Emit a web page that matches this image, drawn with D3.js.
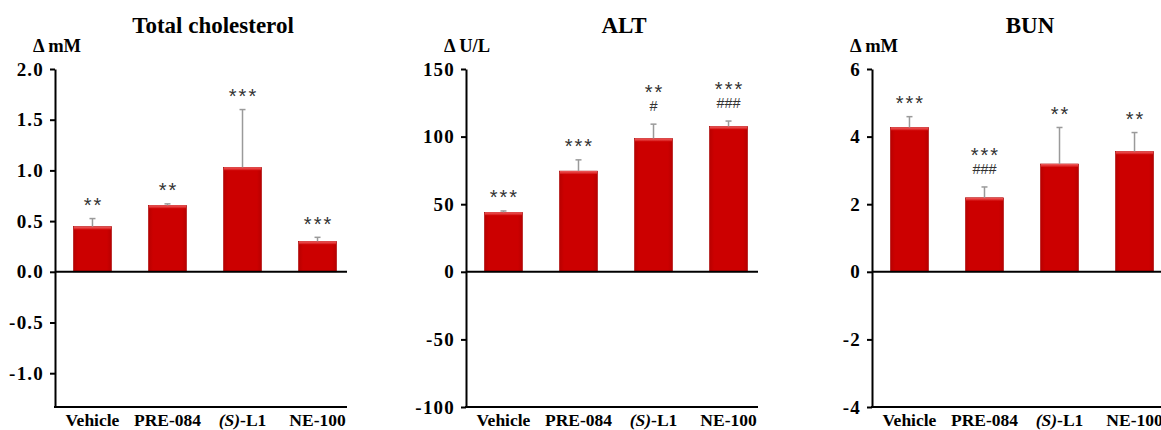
<!DOCTYPE html>
<html>
<head>
<meta charset="utf-8">
<script src="https://cdn.jsdelivr.net/npm/d3@7/dist/d3.min.js"></script>
<style>
  html, body { margin: 0; padding: 0; background: #fff; }
  svg { display: block; }
</style>
</head>
<body>
<svg id="chart" width="1161" height="430"></svg>
<script>
// Treatment groups shared by all three panels
const categories = ["Vehicle", "PRE-084", "(S)-L1", "NE-100"];

// Total cholesterol (Δ mM)
const cholMean = [0.445, 0.655, 1.03, 0.30];
const cholErr = [0.08, 0.015, 0.57, 0.04];
const cholStars = ["**", "**", "***", "***"];
const cholHash = ["", "", "", ""];
const cholTicks = [-1.0, -0.5, 0.0, 0.5, 1.0, 1.5, 2.0];
const cholDomain = [-4 / 3, 2];

// ALT (Δ U/L)
const altMean = [44, 74.5, 98.6, 107.5];
const altErr = [1, 8.3, 10.6, 4];
const altStars = ["***", "***", "**", "***"];
const altHash = ["", "", "#", "###"];
const altTicks = [-100, -50, 0, 50, 100, 150];
const altDomain = [-100, 150];

// BUN (Δ mM)
const bunMean = [4.27, 2.19, 3.19, 3.56];
const bunErr = [0.32, 0.32, 1.08, 0.56];
const bunStars = ["***", "***", "**", "**"];
const bunHash = ["", "###", "", ""];
const bunTicks = [-4, -2, 0, 2, 4, 6];
const bunDomain = [-4, 6];

// Plain hyphen for negative tick labels
const withHyphen = f => v => f(v).replace("\u2212", "-");

const panels = [
  { title: "Total cholesterol", unit: "\u0394 mM", mean: cholMean, err: cholErr, stars: cholStars, hash: cholHash,
    ticks: cholTicks, domain: cholDomain, fmt: withHyphen(d3.format(".1f")), x0: 55 },
  { title: "ALT", unit: "\u0394 U/L", mean: altMean, err: altErr, stars: altStars, hash: altHash,
    ticks: altTicks, domain: altDomain, fmt: withHyphen(d3.format("d")), x0: 466 },
  { title: "BUN", unit: "\u0394 mM", mean: bunMean, err: bunErr, stars: bunStars, hash: bunHash,
    ticks: bunTicks, domain: bunDomain, fmt: withHyphen(d3.format("d")), x0: 872 }
];

const svg = d3.select("#chart");
const serif = "'Liberation Serif', 'Times New Roman', serif";
const sans = "'Liberation Sans', Arial, sans-serif";
const yTop = 69, yBottom = 407, axisLen = 292;

// Bar shading: darker sides, brighter middle
const defs = svg.append("defs");
const grad = defs.append("linearGradient").attr("id", "barFill")
  .attr("x1", 0).attr("x2", 1).attr("y1", 0).attr("y2", 0);
grad.append("stop").attr("offset", "0%").attr("stop-color", "#b80000");
grad.append("stop").attr("offset", "12%").attr("stop-color", "#cc0000");
grad.append("stop").attr("offset", "88%").attr("stop-color", "#cc0000");
grad.append("stop").attr("offset", "100%").attr("stop-color", "#b80000");
const capGrad = defs.append("linearGradient").attr("id", "barCap")
  .attr("x1", 0).attr("x2", 0).attr("y1", 0).attr("y2", 1);
capGrad.append("stop").attr("offset", "0%").attr("stop-color", "#f06060");
capGrad.append("stop").attr("offset", "100%").attr("stop-color", "#d41010");

panels.forEach(p => {
  const g = svg.append("g");
  const x = d3.scaleBand().domain(categories)
    .range([p.x0, p.x0 + 300]).paddingInner(0.493).paddingOuter(0.246);
  const y = d3.scaleLinear().domain(p.domain).range([yBottom, yTop]);

  // Title and unit
  g.append("text").attr("x", p.x0 + 158).attr("y", 33)
    .attr("text-anchor", "middle").attr("font-family", serif)
    .attr("font-weight", "bold").attr("font-size", 23).text(p.title);
  g.append("text").attr("x", p.x0 - 22).attr("y", 52)
    .attr("font-family", serif).attr("font-weight", "bold")
    .attr("font-size", 18.5).text(p.unit);

  const rows = categories.map((c, i) => ({ c, m: p.mean[i], e: p.err[i], s: p.stars[i], h: p.hash[i] }));

  // Bars
  g.selectAll("rect.bar").data(rows).join("rect").attr("class", "bar")
    .attr("x", d => x(d.c)).attr("width", x.bandwidth())
    .attr("y", d => y(Math.max(0, d.m)))
    .attr("height", d => Math.abs(y(d.m) - y(0)))
    .attr("fill", "url(#barFill)")
    .attr("stroke", "#a80000").attr("stroke-width", 0.6);
  g.selectAll("rect.cap").data(rows).join("rect").attr("class", "cap")
    .attr("x", d => x(d.c) + 0.5).attr("width", x.bandwidth() - 1)
    .attr("y", d => y(d.m)).attr("height", 3)
    .attr("fill", "url(#barCap)");

  // Error bars (upper only)
  const cx = d => x(d.c) + x.bandwidth() / 2;
  g.selectAll("line.err").data(rows).join("line").attr("class", "err")
    .attr("x1", cx).attr("x2", cx)
    .attr("y1", d => y(d.m)).attr("y2", d => y(d.m + d.e))
    .attr("stroke", "#9a9a9a").attr("stroke-width", 1.5);
  g.selectAll("line.errcap").data(rows).join("line").attr("class", "errcap")
    .attr("x1", d => cx(d) - 3).attr("x2", d => cx(d) + 3)
    .attr("y1", d => y(d.m + d.e)).attr("y2", d => y(d.m + d.e))
    .attr("stroke", "#9a9a9a").attr("stroke-width", 1.5);

  // Significance marks
  g.selectAll("text.star").data(rows).join("text").attr("class", "star")
    .attr("x", d => cx(d) + 1)
    .attr("y", d => y(d.m + d.e) - (d.h ? 25 : 6.5))
    .attr("text-anchor", "middle").attr("font-family", sans)
    .attr("font-size", 20).attr("letter-spacing", 2)
    .attr("fill", "#333").text(d => d.s);
  g.selectAll("text.hash").data(rows.filter(d => d.h)).join("text").attr("class", "hash")
    .attr("x", d => cx(d))
    .attr("y", d => y(d.m + d.e) - 13)
    .attr("text-anchor", "middle").attr("font-family", sans)
    .attr("font-size", 14.5).attr("fill", "#333").text(d => d.h);

  // Y axis
  const yAxis = g.append("g").attr("transform", `translate(${p.x0},0)`)
    .call(d3.axisLeft(y).tickValues(p.ticks).tickFormat(p.fmt).tickSize(5).tickSizeOuter(0).tickPadding(6));
  yAxis.select(".domain").attr("stroke", "#000").attr("stroke-width", 2);
  yAxis.selectAll(".tick line").attr("stroke", "#000").attr("stroke-width", 2);
  yAxis.selectAll(".tick text").attr("font-family", serif).attr("font-weight", "bold")
    .attr("font-size", 19).attr("letter-spacing", 1.2).attr("fill", "#000");

  // Zero line and bottom axis line
  g.append("line").attr("x1", p.x0).attr("x2", p.x0 + axisLen)
    .attr("y1", y(0)).attr("y2", y(0)).attr("stroke", "#000").attr("stroke-width", 2);
  const xAxis = g.append("g").attr("transform", `translate(0,${yBottom})`)
    .call(d3.axisBottom(x).tickSize(0).tickPadding(7));
  xAxis.select(".domain").remove();
  g.append("line").attr("x1", p.x0 - 1).attr("x2", p.x0 + axisLen)
    .attr("y1", yBottom).attr("y2", yBottom).attr("stroke", "#000").attr("stroke-width", 2);
  xAxis.selectAll(".tick text").attr("font-family", serif).attr("font-weight", "bold")
    .attr("font-size", 17.5).attr("fill", "#000")
    .each(function (d) {
      const t = d3.select(this);
      if (d === "(S)-L1") {
        t.text(null);
        t.append("tspan").attr("font-style", "italic").text("(S)");
        t.append("tspan").text("-L1");
      }
    });
});
</script>
</body>
</html>
